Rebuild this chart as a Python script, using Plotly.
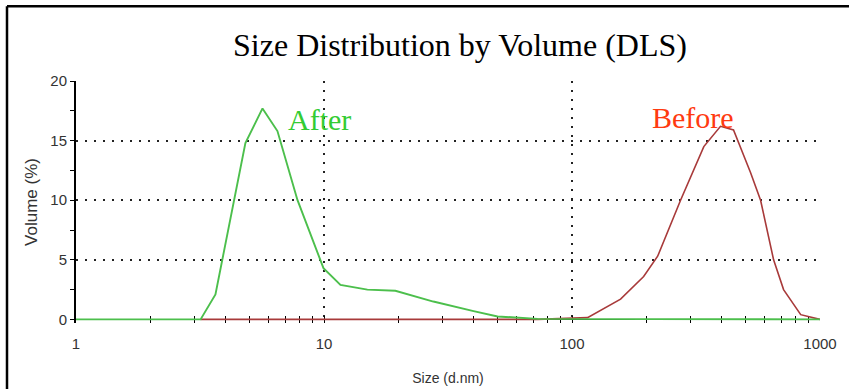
import math
import plotly.graph_objects as go

# Volume distribution after treatment (size in d.nm, volume in %)
after_size = [1, 3.18, 3.65, 4.82, 5.65, 6.49, 7.82, 9.95, 11.65, 14.96, 19.4, 27.6, 40.1, 50.1, 72.6, 1000]
after_volume = [0, 0, 2.1, 14.8, 17.7, 15.8, 10.0, 4.3, 2.9, 2.5, 2.4, 1.5, 0.7, 0.25, 0.05, 0]

# Volume distribution before treatment
before_size = [3.18, 72.6, 115.5, 157, 194.5, 221.5, 274, 340, 397, 448, 525, 576, 650, 713, 836, 942, 1000]
before_volume = [0, 0, 0.15, 1.7, 3.6, 5.3, 10.0, 14.5, 16.2, 15.9, 12.3, 10.0, 5.0, 2.5, 0.4, 0.1, 0]

x_tickvals = [1, 10, 100, 1000]
x_ticktext = ["1", "10", "100", "1000"]
x_minor_vals = [m * 10 ** d for d in range(3) for m in range(2, 10)]
y_tickvals = [0, 5, 10, 15, 20]

SANS = "Liberation Sans, Arial, sans-serif"
SERIF = "Liberation Serif, Times New Roman, serif"
TICK_FONT = dict(family=SANS, size=15, color="#333333")
GRID_DASH = "2px,7px"

fig = go.Figure()

fig.add_trace(go.Scatter(
    x=before_size, y=before_volume, mode="lines",
    line=dict(color="#a83a3a", width=1.6), showlegend=False,
))
fig.add_trace(go.Scatter(
    x=after_size, y=after_volume, mode="lines",
    line=dict(color="#4cbf4c", width=1.9), showlegend=False,
))

fig.update_layout(
    width=849, height=389,
    margin=dict(l=76, r=29, t=81, b=66),
    paper_bgcolor="white", plot_bgcolor="white",
    title=dict(
        text="Size Distribution by Volume (DLS)",
        font=dict(family=SERIF, size=32, color="black"),
        x=460 / 849, xanchor="center", xref="container",
        y=1 - 45 / 389, yanchor="middle", yref="container",
    ),
    xaxis=dict(
        type="log", range=[0, 3], automargin=False,
        tickvals=x_tickvals, ticktext=x_ticktext,
        tickfont=TICK_FONT,
        ticks="inside", ticklen=7, tickcolor="black", tickwidth=1,
        minor=dict(tickvals=x_minor_vals, ticks="inside", ticklen=7,
                   tickcolor="black", tickwidth=1, showgrid=False),
        showline=False,
        showgrid=True, gridcolor="#222222", gridwidth=1.5, griddash=GRID_DASH,
        zeroline=False,
        title=dict(text="Size (d.nm)", font=dict(family=SANS, size=14, color="#333333"), standoff=22),
        ticklabelstandoff=10,
        layer="below traces",
    ),
    yaxis=dict(
        range=[-0.3, 20], automargin=False,
        tickvals=y_tickvals,
        tickfont=TICK_FONT,
        ticks="outside", ticklen=4, tickcolor="black", tickwidth=1,
        minor=dict(dtick=2.5, tick0=0, ticks="outside", ticklen=4,
                   tickcolor="black", tickwidth=1, showgrid=False),
        showline=True, linecolor="black", linewidth=2,
        showgrid=True, gridcolor="#222222", gridwidth=1.5, griddash=GRID_DASH,
        zeroline=True, zerolinecolor="black", zerolinewidth=1.2,
        title=dict(text="Volume (%)", font=dict(family=SANS, size=17, color="#333333"), standoff=8),
        layer="below traces",
    ),
)

fig.add_annotation(
    text="After", x=math.log10(7.0), y=16.8, xref="x", yref="y",
    xanchor="left", yanchor="middle", showarrow=False,
    font=dict(family=SERIF, size=30, color="#33cc33"),
)
fig.add_annotation(
    text="Before", x=math.log10(207.0), y=16.9, xref="x", yref="y",
    xanchor="left", yanchor="middle", showarrow=False,
    font=dict(family=SERIF, size=30, color="#ff3a10"),
)

# frame edges: left and top borders of the figure panel
frame_left = (7 - 76) / 744
frame_top = (322.9 - 6) / 242.2
fig.add_shape(
    type="line", xref="paper", yref="paper",
    x0=frame_left, x1=frame_left, y0=-0.5, y1=frame_top,
    line=dict(color="black", width=2.5), layer="above",
)
fig.add_shape(
    type="line", xref="paper", yref="paper",
    x0=frame_left, x1=1.2, y0=frame_top, y1=frame_top,
    line=dict(color="black", width=2.5), layer="above",
)

fig.write_html("out.html")
